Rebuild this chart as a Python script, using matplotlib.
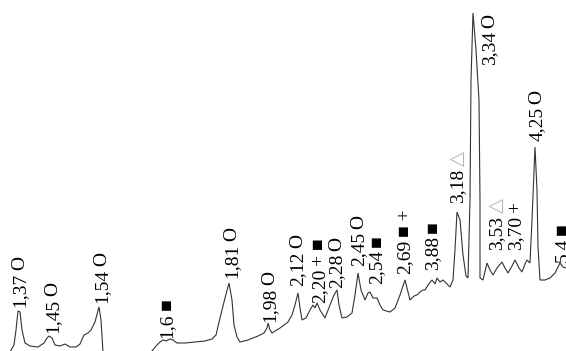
import matplotlib
matplotlib.use("Agg")
import matplotlib.pyplot as plt

# Diffractogram trace (position along the scan, relative intensity)
position = [10, 14, 16, 18, 20, 22, 25, 30, 38, 44, 47, 49, 52, 55, 60, 65, 70, 76, 80, 84,
            88, 91, 95, 99, 101, 103, 105, 148, 152, 156, 160, 163, 166, 170, 173, 177, 185,
            195, 205, 212, 216, 220, 225, 229, 232, 234, 237, 240, 248, 258, 264, 267, 268,
            270, 272, 280, 288, 292, 295, 298, 300, 302, 306, 310, 313, 315, 317, 320, 325,
            330, 334, 337, 339, 342, 347, 352, 355, 358, 361, 365, 368, 370, 373, 377, 380,
            383, 390, 395, 400, 405, 408, 410, 414, 417, 420, 423, 425, 428, 432, 435, 437,
            440, 443, 447, 450, 453, 455, 457, 460, 463, 466, 468, 470, 471, 473, 476, 479,
            480, 480, 483, 487, 490, 493, 497, 502, 505, 508, 512, 515, 519, 522, 525, 527,
            530, 532, 535, 537, 538, 540, 545, 550, 555, 560, 563, 566]
intensity = [-1, 6, 21, 40, 39, 21, 8, 5, 4, 8, 13, 15, 13, 6, 5, 7, 4, 4, 7, 16,
             18, 21, 29, 44, 31, -1, -11, -11, 0, 5, 9, 11, 10, 12, 11, 8, 8,
             9, 10, 12, 16, 33, 53, 68, 51, 26, 14, 9, 11, 15, 18, 23, 28,
             21, 18, 23, 29, 36, 46, 58, 43, 31, 33, 41, 46, 43, 48, 41, 33,
             46, 56, 61, 46, 33, 34, 38, 56, 78, 61, 51, 58, 59, 53, 53, 46,
             41, 39, 43, 56, 71, 59, 51, 55, 56, 59, 61, 61, 66, 71, 67, 73,
             69, 71, 67, 64, 71, 101, 139, 131, 96, 75, 73, 151, 271, 338, 301, 251,
             151, 73, 71, 88, 81, 76, 83, 89, 83, 78, 85, 91, 83, 79, 87, 91,
             88, 131, 204, 161, 104, 71, 71, 73, 78, 88, 84, 83]

# Peak annotations: d-spacing, phase symbols, anchor of the label
d_spacing = ["1,37", "1,45", "1,54", "1,6", "1,81", "1,98", "2,12", "2,20", "2,28", "2,45",
             "2,54", "2,69", "3,88", "3,18", "3,34", "3,53", "3,70", "4,25", "5,4"]
phase = ["O", "O", "O", "■", "O", "O", "O", "+ ■", "O", "O",
         "■", "■ +", "■", "△", "O", "△", "+", "O", "■"]
label_x = [20, 53, 102, 167, 232, 270, 298, 320, 337, 359,
           377, 405, 433, 458, 490, 497, 516, 537, 562]
label_y = [44, 18, 48, 13, 73, 29, 65, 48, 63, 85,
           67, 77, 81, 148, 286, 101, 101, 210, 89]

fig = plt.figure(figsize=(5.66, 3.51), dpi=100)
ax = fig.add_axes([0, 0, 1, 1])
ax.set_xlim(0, 566)
ax.set_ylim(0, 351)
ax.axis("off")

ax.plot(position, intensity, color="#333333", lw=0.8, solid_joinstyle="miter")

fig.canvas.draw()
renderer = fig.canvas.get_renderer()
inv = ax.transData.inverted()

fs = 14
for d, ph, x, y in zip(d_spacing, phase, label_x, label_y):
    t = ax.text(x, y, d, rotation=90, rotation_mode="anchor", ha="left", va="center",
                fontsize=fs, family="Liberation Serif", color="black")
    bb = t.get_window_extent(renderer)
    top = inv.transform((0, bb.y1))[1]
    col = "#b4b4b4" if ph == "△" else "black"
    ax.text(x, top + 3, ph, rotation=90, rotation_mode="anchor", ha="left", va="center",
            fontsize=fs, family=["Liberation Serif", "DejaVu Sans"], color=col)

fig.savefig("out.png", dpi=100)
